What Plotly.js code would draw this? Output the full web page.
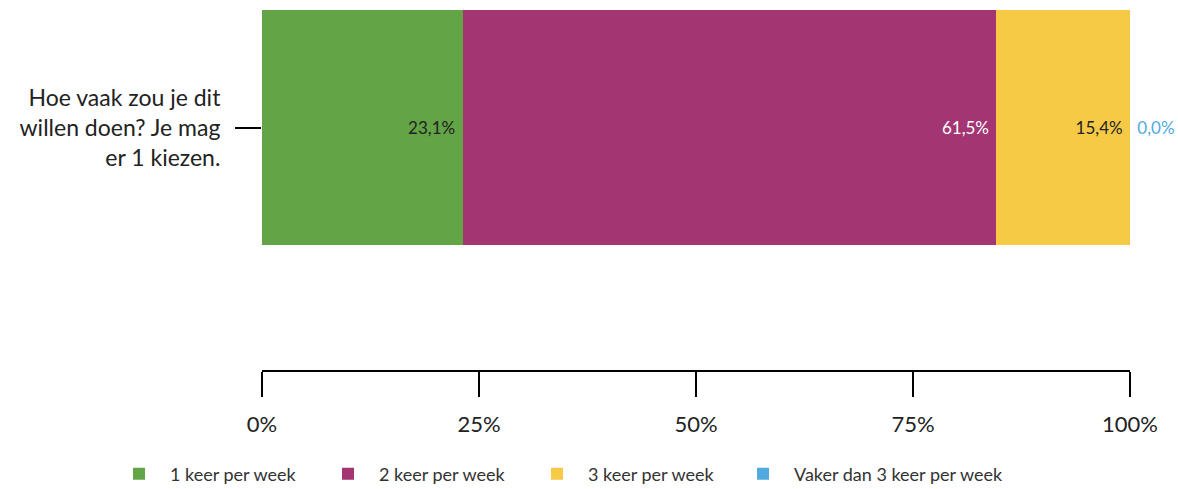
<!DOCTYPE html>
<html>
<head>
<meta charset="utf-8">
<script src="https://cdn.plot.ly/plotly-3.0.1.min.js"></script>
<style>html,body{margin:0;padding:0;background:#fff;}#chart{width:1178px;height:489px;}</style>
</head>
<body>
<div id="chart"></div>
<script>
const question = "Hoe vaak zou je dit<br>willen doen? Je mag<br>er 1 kiezen.";
const seriesNames = ["1 keer per week", "2 keer per week", "3 keer per week", "Vaker dan 3 keer per week"];
const seriesValues = [23.1, 61.5, 15.4, 0.0];
const seriesColors = ["#62a446", "#a33573", "#f6ca45", "#50aae0"];
const labelColors = ["#222222", "#ffffff", "#222222", "#50aae0"];
const xTickVals = [0, 25, 50, 75, 100];
const xTickText = ["0%", "25%", "50%", "75%", "100%"];

const traces = seriesNames.map((name, i) => {
  const inside = seriesValues[i] > 0;
  return {
    type: "bar",
    orientation: "h",
    name: name,
    x: [seriesValues[i]],
    y: [0],
    width: 1,
    marker: {color: seriesColors[i]},
    texttemplate: inside ? "%{x:.1f}%\u00a0" : "\u00a0%{x:.1f}%",
    textposition: inside ? "inside" : "outside",
    insidetextanchor: "end",
    constraintext: "none",
    cliponaxis: false,
    textfont: {family: "Lato, sans-serif", size: 17, color: labelColors[i]},
    legend: i < 3 ? "legend" : "legend2",
    hoverinfo: "skip"
  };
});

const legendCommon = {
  orientation: "h",
  xanchor: "left",
  y: -0.289,
  yanchor: "middle",
  traceorder: "normal",
  itemwidth: 52,
  font: {family: "Lato, sans-serif", size: 18, color: "#333333"}
};

const layout = {
  width: 1178,
  height: 489,
  margin: {l: 262, r: 48, t: 10, b: 119, autoexpand: false},
  paper_bgcolor: "#ffffff",
  plot_bgcolor: "#ffffff",
  separators: ", ",
  barmode: "stack",
  showlegend: true,
  font: {family: "Lato, sans-serif", color: "#222222"},
  xaxis: {
    range: [0, 100],
    tickvals: xTickVals,
    ticktext: xTickText,
    showgrid: false,
    zeroline: false,
    showline: true,
    linecolor: "#000000",
    linewidth: 2,
    ticks: "outside",
    ticklen: 25,
    tickwidth: 2,
    tickcolor: "#000000",
    ticklabelstandoff: 9,
    tickfont: {family: "Lato, sans-serif", size: 22, color: "#222222"},
    fixedrange: true
  },
  yaxis: {
    range: [-1.03, 0.5],
    tickvals: [0],
    ticktext: [question],
    showgrid: false,
    zeroline: false,
    showline: false,
    ticks: "outside",
    ticklen: 26,
    tickwidth: 2,
    tickcolor: "#000000",
    ticklabelstandoff: 10,
    tickfont: {family: "Lato, sans-serif", size: 23, color: "#222222"},
    fixedrange: true
  },
  legend: Object.assign({}, legendCommon, {x: -0.1774, entrywidth: 142}),
  legend2: Object.assign({}, legendCommon, {x: 0.5415}),
  hovermode: false
};

Plotly.newPlot("chart", traces, layout, {displayModeBar: false, staticPlot: true});
</script>
</body>
</html>
